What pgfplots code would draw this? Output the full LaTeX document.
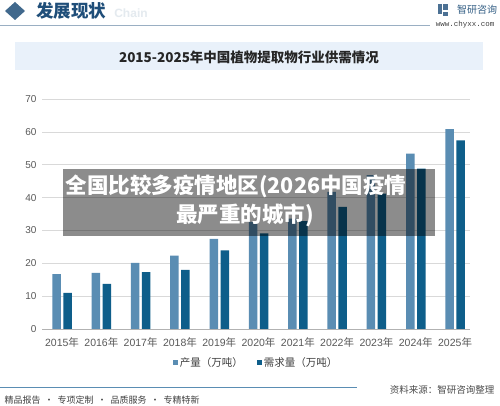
\documentclass[border=0pt]{standalone}
\usepackage{pgfplots}
\pgfplotsset{compat=1.18}
\usepackage{fontspec}
\setmainfont{Liberation Sans}
\newfontfamily\cjk{Noto Sans CJK SC}
\newfontfamily\mono{Liberation Mono}
\definecolor{lightbar}{HTML}{5A8DB3}
\definecolor{darkbar}{HTML}{0E5E8A}
\definecolor{headblue}{HTML}{1F4E79}
\definecolor{titlebox}{HTML}{E9F1FA}
\definecolor{ticktext}{HTML}{595959}
\begin{document}
\begin{tikzpicture}[x=1pt,y=1pt]
\useasboundingbox (0,0) rectangle (500,406);
\fill[white] (0,0) rectangle (500,406);
% header
\fill[headblue!85] (15,404) -- (25,395) -- (15,386) -- (5,395) -- cycle;
\node[font=\cjk\bfseries\fontsize{17.5}{17.5}\selectfont, text=headblue] at (71,395) {发展现状};
\node[font=\bfseries\fontsize{12}{12}\selectfont, text=headblue!12] at (131,393) {Chain};
\draw[color=headblue!45, line width=0.8pt] (0,381) -- (430,381);
\fill[headblue!80] (438,392) rectangle (442,402);
\fill[headblue!80] (443,396) rectangle (448,402);
\fill[headblue!80] (443,390) rectangle (448,394);
\node[font=\cjk\fontsize{10}{10}\selectfont, text=headblue!90] at (477,396) {智研咨询};
\node[font=\mono\fontsize{7.5}{7.5}\selectfont, text=black!75] at (465,381) {www.chyxx.com};
% title box
\fill[titlebox] (15,336) rectangle (483,364);
\node[font=\cjk\bfseries\fontsize{13.5}{13.5}\selectfont, text=black!85] at (249,349) {2015-2025年中国植物提取物行业供需情况};
% chart
\begin{axis}[
  at={(42pt,77pt)}, anchor=south west,
  scale only axis, width=428pt, height=230pt,
  ybar=2.5pt, bar width=8.5pt,
  xmin=-0.51, xmax=10.38, ymin=0, ymax=70,
  ytick={0,10,...,70},
  xtick={0,...,10},
  xticklabels={{2015\cjk 年},{2016\cjk 年},{2017\cjk 年},{2018\cjk 年},{2019\cjk 年},{2020\cjk 年},{2021\cjk 年},{2022\cjk 年},{2023\cjk 年},{2024\cjk 年},{2025\cjk 年}},
  ymajorgrids, grid style={color=black!15, line width=0.6pt},
  axis x line*=bottom, axis y line*=left,
  y axis line style={draw=none},
  x axis line style={color=black!30, line width=0.8pt},
  major tick length=0pt,
  /pgf/number format/assume math mode=true,
  tick label style={text=ticktext},
  yticklabel style={font=\fontsize{10}{10}\selectfont, xshift=-2pt},
  xticklabel style={font=\fontsize{10.5}{10.5}\selectfont, yshift=-5pt},
  legend style={draw=none, fill=none, at={(0.5,-0.145)}, anchor=center, legend columns=2,
    font=\cjk\fontsize{10.5}{10.5}\selectfont, text=black!75,
    /tikz/every even column/.append style={column sep=12pt}},
  legend image code/.code={\fill[#1] (0pt,-2.5pt) rectangle (5pt,2.5pt);},
]
\addplot[fill=lightbar, draw=none] coordinates {(0,16.7) (1,17.1) (2,20.1) (3,22.3) (4,27.4) (5,32.6) (6,33.6) (7,41.7) (8,46.8) (9,53.4) (10,60.8)};
\addplot[fill=darkbar, draw=none] coordinates {(0,11.0) (1,13.7) (2,17.3) (3,18.0) (4,23.9) (5,29.1) (6,32.8) (7,37.2) (8,41.2) (9,48.8) (10,57.4)};
\legend{产量（万吨）,需求量（万吨）}
\end{axis}
% overlay banner
\fill[black, opacity=0.45] (63,170) rectangle (435,237);
\node[font=\cjk\bfseries\fontsize{21.5}{21.5}\selectfont, text=white] at (236,220) {全国比较多疫情地区(2026中国疫情};
\node[font=\cjk\bfseries\fontsize{21.5}{21.5}\selectfont, text=white] at (245,191) {最严重的城市)};
% footer
\draw[color=lightbar, line width=1pt] (0,18) -- (357,18);
\node[font=\cjk\fontsize{9.5}{9.5}\selectfont, text=black!70, anchor=east] at (498,16) {资料来源：智研咨询整理};
\node[font=\cjk\fontsize{9}{9}\selectfont, text=black!75, anchor=west] at (1,6) {精品报告\ \ ·\ \ 专项定制\ \ ·\ \ 品质服务\ \ ·\ \ 专精特新};
\end{tikzpicture}
\end{document}
